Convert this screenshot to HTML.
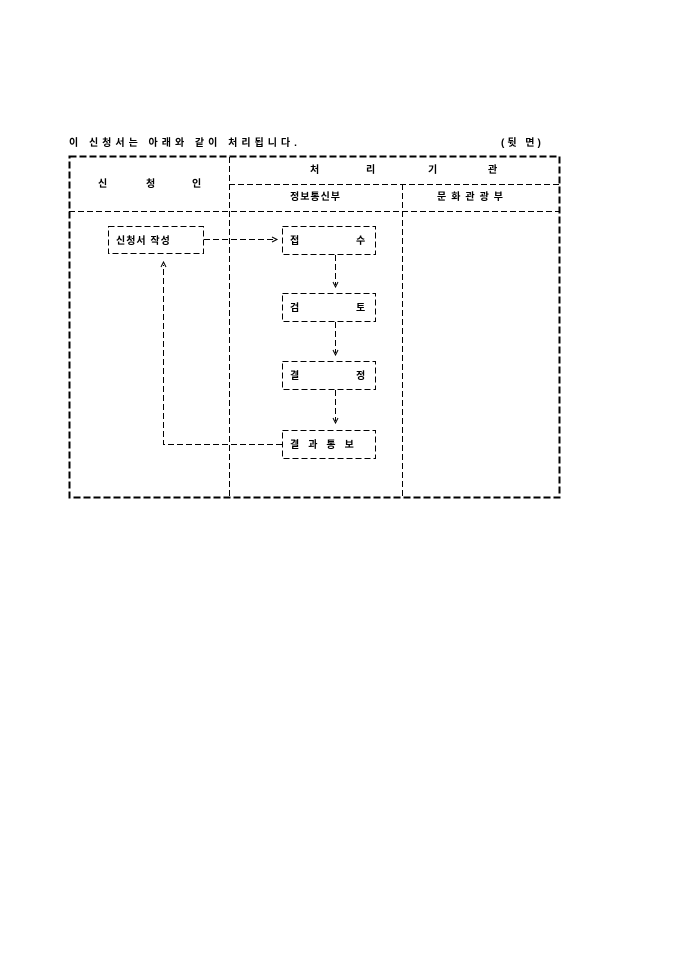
<!DOCTYPE html>
<html><head><meta charset="utf-8"><style>
html,body{margin:0;padding:0;background:#fff;width:680px;height:962px;overflow:hidden}
svg text{font-family:"Liberation Sans","Noto Sans CJK KR","NanumGothic",sans-serif;font-size:10px;font-weight:bold;fill:#000}
</style></head><body>
<svg width="680" height="962" xmlns="http://www.w3.org/2000/svg">
<text x="69" y="146" style="letter-spacing:4px">이 신청서는 아래와 같이 처리됩니다.</text>
<text x="501" y="146" style="letter-spacing:3px">(뒷 면)</text>
<g fill="none" stroke="#000">
<rect x="69.5" y="156.5" width="490" height="341" stroke-width="2" stroke-dasharray="7,3"/>
<g stroke-width="1" stroke-dasharray="6,3">
<line x1="229.5" y1="157" x2="229.5" y2="497"/>
<line x1="402.5" y1="184" x2="402.5" y2="497"/>
<line x1="229" y1="184.5" x2="560" y2="184.5"/>
<line x1="69" y1="211.5" x2="560" y2="211.5"/>
<rect x="108.5" y="226.5" width="95" height="27"/>
<rect x="282.5" y="226.5" width="93" height="28"/>
<rect x="282.5" y="293.5" width="93" height="28"/>
<rect x="282.5" y="361.5" width="93" height="28"/>
<rect x="282.5" y="430.5" width="93" height="28"/>
<line x1="204" y1="239.5" x2="276" y2="239.5"/>
<line x1="335.5" y1="255" x2="335.5" y2="285"/>
<line x1="335.5" y1="322" x2="335.5" y2="353"/>
<line x1="335.5" y1="390" x2="335.5" y2="421"/>
<polyline points="282,444.5 163.5,444.5 163.5,265"/>
</g>
<g stroke-width="1">
<polyline points="272,237 277,239.5 272,242"/>
<polyline points="333,282 335.5,287 338,282"/>
<polyline points="333,350 335.5,355 338,350"/>
<polyline points="333,418 335.5,423 338,418"/>
<polyline points="161,267 163.5,262 166,267"/>
</g>
</g>
<text x="98" y="187">신</text><text x="146" y="187">청</text><text x="192" y="187">인</text>
<text x="310" y="173">처</text><text x="366" y="173">리</text><text x="428" y="173">기</text><text x="488" y="173">관</text>
<text x="290" y="200" style="letter-spacing:1px">정보통신부</text>
<text x="437" y="200" style="letter-spacing:5px">문화관광부</text>
<text x="116" y="244" style="letter-spacing:1px">신청서 작성</text>
<text x="290" y="244">접</text><text x="356" y="244">수</text>
<text x="290" y="311">검</text><text x="356" y="311">토</text>
<text x="290" y="379">결</text><text x="356" y="379">정</text>
<text x="290" y="448" style="letter-spacing:9px">결과통보</text>
</svg>
</body></html>
